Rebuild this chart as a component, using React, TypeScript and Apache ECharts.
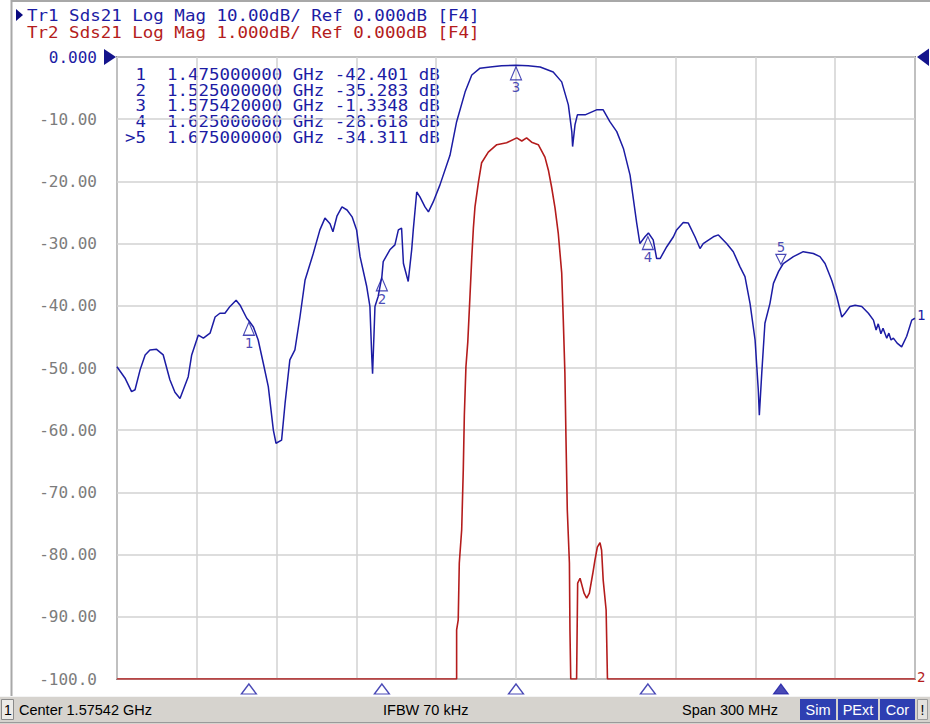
import React, { useEffect, useRef } from 'react';
import * as echarts from 'echarts';

// Sweep: center 1575.42 MHz, span 300 MHz
const START_MHZ = 1425.42;
const SPAN_MHZ = 300;

// Trace 1 (Sds21, 10 dB/div) — frequency in MHz, magnitude in dB
const blueFreqMHz = [
  1425.4, 1428.4, 1430.9, 1432.2, 1434.1, 1436.0, 1437.8, 1440.3, 1442.8, 1445.3,
  1447.2, 1449.1, 1452.2, 1453.5, 1456.0, 1457.9, 1460.4, 1462.3, 1464.1, 1466.0,
  1467.9, 1470.2, 1471.7, 1474.2, 1475.0, 1476.7, 1478.5, 1480.4, 1482.3, 1484.2,
  1485.2, 1487.3, 1488.6, 1490.4, 1492.3, 1494.2, 1496.1, 1499.2, 1501.7, 1503.6,
  1505.5, 1506.6, 1508.1, 1510.0, 1511.9, 1513.8, 1515.5, 1516.8, 1519.3, 1520.5,
  1521.2, 1521.5, 1522.0, 1522.4, 1523.6, 1525.0, 1525.5, 1528.0, 1529.9, 1531.2,
  1532.4, 1533.1, 1534.9, 1536.2, 1536.8, 1538.1, 1539.3, 1541.2, 1542.5, 1544.3,
  1546.8, 1550.6, 1553.1, 1556.3, 1558.8, 1561.9, 1565.7, 1570.0, 1575.4, 1580.0,
  1584.5, 1589.4, 1592.6, 1595.1, 1596.4, 1596.7, 1597.6, 1598.5, 1601.4, 1605.7,
  1608.2, 1610.7, 1613.3, 1615.8, 1618.3, 1620.8, 1622.0, 1623.9, 1625.2, 1627.0,
  1628.3, 1629.6, 1632.1, 1634.6, 1635.8, 1638.3, 1640.2, 1642.7, 1644.6, 1645.8,
  1649.6, 1651.5, 1654.6, 1657.1, 1659.6, 1661.5, 1663.4, 1665.3, 1666.5, 1666.9,
  1667.8, 1669.0, 1670.9, 1672.2, 1674.1, 1675.9, 1679.7, 1683.4, 1687.2, 1689.7,
  1691.6, 1694.1, 1696.0, 1697.9, 1699.1, 1701.0, 1702.9, 1705.4, 1707.9, 1709.8,
  1710.8, 1711.6, 1712.6, 1713.4, 1714.8, 1715.6, 1716.4, 1717.3, 1718.7, 1720.4,
  1722.3, 1724.2, 1725.4,
];
const blueDb = [
  -49.8, -51.6, -53.8, -53.5, -50.3, -47.9, -47.1, -47.0, -47.9, -51.9,
  -53.9, -54.9, -51.4, -47.9, -44.7, -45.2, -44.4, -41.8, -41.2, -41.2,
  -40.1, -39.1, -39.9, -42.0, -42.4, -43.4, -45.5, -49.2, -53.0, -60.0,
  -62.1, -61.6, -55.7, -48.7, -47.1, -41.8, -35.9, -31.6, -27.8, -25.9,
  -26.8, -28.1, -25.6, -24.1, -24.6, -25.7, -27.8, -32.1, -36.9, -40.1,
  -48.2, -50.9, -45.0, -40.1, -38.5, -35.3, -32.9, -31.0, -30.2, -27.8,
  -27.5, -33.2, -36.1, -31.0, -27.8, -21.7, -22.5, -24.1, -24.9, -23.3,
  -20.6, -15.8, -10.4, -5.6, -2.9, -1.8, -1.6, -1.4, -1.33, -1.4,
  -1.6, -2.4, -4.0, -7.7, -12.0, -14.4, -10.9, -9.3, -9.3, -8.5,
  -8.5, -10.4, -12.0, -14.7, -19.0, -26.7, -30.0, -28.9, -28.3, -29.4,
  -32.4, -32.4, -30.5, -28.9, -27.8, -26.6, -26.7, -28.9, -30.8, -30.0,
  -28.9, -28.6, -30.0, -31.3, -33.7, -35.3, -39.6, -45.5, -53.5, -57.6,
  -50.9, -42.8, -39.6, -36.4, -34.5, -33.2, -32.1, -31.3, -31.6, -32.1,
  -33.2, -35.9, -38.5, -41.8, -41.2, -40.1, -39.9, -40.1, -41.2, -42.3,
  -43.9, -42.9, -44.5, -43.6, -45.2, -44.4, -45.5, -45.2, -46.0, -46.6,
  -44.9, -42.3, -42.0,
];

// Trace 2 (Sds21, 1 dB/div, clipped at -10 dB on screen)
const redFreqMHz = [
  1425.4, 1553.1, 1553.1, 1553.7, 1554.1, 1555.0, 1555.6, 1556.0, 1556.6, 1557.3,
  1558.1, 1558.8, 1559.4, 1560.0, 1561.3, 1562.5, 1565.0, 1568.2, 1571.9, 1575.7,
  1577.6, 1579.4, 1581.3, 1583.8, 1586.3, 1587.6, 1588.8, 1590.1, 1591.3, 1592.6,
  1593.2, 1593.8, 1594.2, 1594.7, 1595.5, 1595.7, 1596.0, 1598.2, 1598.6, 1599.5,
  1601.0, 1602.0, 1603.0, 1604.3, 1605.1, 1606.0, 1607.0, 1607.6, 1608.2, 1609.3,
  1609.8, 1725.4,
];
const redDb = [
  -10, -10, -9.21, -9.05, -8.14, -7.6, -6.64, -5.76, -4.98, -4.58,
  -3.86, -3.22, -2.75, -2.41, -2.01, -1.7, -1.53, -1.41, -1.38, -1.3,
  -1.35, -1.3, -1.37, -1.41, -1.61, -1.82, -2.09, -2.43, -2.83, -3.47,
  -4.23, -5.08, -6.11, -7.28, -8.14, -9.21, -10, -10, -8.46, -8.38,
  -8.62, -8.7, -8.62, -8.3, -8.09, -7.88, -7.81, -7.93, -8.41, -8.89,
  -10, -10,
];

// Markers
const markerIds = ['1', '2', '3', '4', '5'];
const markerFreqMHz = [1475, 1525, 1575.42, 1625, 1675];
const markerDb = [-42.401, -35.283, -1.3348, -28.618, -34.311];
const activeMarkerIndex = 4;

const headerLines = [
  'Tr1 Sds21 Log Mag 10.00dB/ Ref 0.000dB [F4]',
  'Tr2 Sds21 Log Mag 1.000dB/ Ref 0.000dB [F4]',
];
const statusCenter = 'Center 1.57542 GHz';
const statusIfbw = 'IFBW 70 kHz';
const statusSpan = 'Span 300 MHz';
const statusFlags = ['Sim', 'PExt', 'Cor'];

const BLUE = '#1c1ca4';
const RED = '#b41c1c';
const MONO = '"DejaVu Sans Mono", monospace';
const SANS = '"Liberation Sans", Arial, sans-serif';

const off = (f: number) => +(f - START_MHZ).toFixed(3);

function buildOption() {
  const blueData = blueFreqMHz.map((f, i) => [off(f), blueDb[i]]);
  const redData = redFreqMHz.map((f, i) => [off(f), redDb[i]]);
  const markerUp = markerIds
    .map((id, i) => ({ name: id, value: [off(markerFreqMHz[i]), markerDb[i]], i }))
    .filter((d) => d.i !== activeMarkerIndex)
    .map(({ name, value }) => ({ name, value }));
  const markerActive = [
    { name: markerIds[activeMarkerIndex], value: [off(markerFreqMHz[activeMarkerIndex]), markerDb[activeMarkerIndex]] },
  ];
  const bottomMarks = markerIds.map((id, i) => ({
    name: id,
    value: [off(markerFreqMHz[i]), -100],
    itemStyle: i === activeMarkerIndex
      ? { color: BLUE, borderColor: BLUE, borderWidth: 1 }
      : { color: 'rgba(255,255,255,0)', borderColor: BLUE, borderWidth: 1.3 },
  }));

  const tableRows = markerIds.map((id, i) => {
    const ghz = (markerFreqMHz[i] / 1000).toFixed(9);
    const val = markerDb[i].toPrecision(5);
    const pre = i === activeMarkerIndex ? '>' : ' ';
    return `${pre}${id}  ${ghz} GHz ${val.padStart(7, ' ')} dB`;
  });

  const graphic: any[] = [];
  // outer frame
  graphic.push({ type: 'line', shape: { x1: 11.5, y1: 0, x2: 11.5, y2: 696 }, style: { stroke: '#a8a8a8', lineWidth: 2 } });
  graphic.push({ type: 'line', shape: { x1: 11, y1: 1, x2: 930, y2: 1 }, style: { stroke: '#a8a8a8', lineWidth: 2 } });
  // active trace arrow
  graphic.push({ type: 'polygon', shape: { points: [[16, 9], [23, 15], [16, 21]] }, style: { fill: '#0a0a80' } });
  headerLines.forEach((t, i) => {
    graphic.push({
      type: 'text', x: 27, y: 15.5 + i * 16.3, scaleX: 1.094,
      style: { text: t, fontFamily: MONO, fontSize: 16, fill: i === 0 ? BLUE : RED, align: 'left', verticalAlign: 'middle' },
    });
  });
  tableRows.forEach((t, i) => {
    graphic.push({
      type: 'text', x: 125, y: 74.5 + i * 15.6, scaleX: 1.09,
      style: { text: t, fontFamily: MONO, fontSize: 16, fill: BLUE, align: 'left', verticalAlign: 'middle' },
    });
  });
  // reference position indicators
  graphic.push({ type: 'polygon', shape: { points: [[104, 49], [116, 57], [104, 65]] }, style: { fill: '#14148c' } });
  graphic.push({ type: 'polygon', shape: { points: [[929, 48.5], [917, 57], [929, 66]] }, style: { fill: '#14148c' } });
  graphic.push({ type: 'text', x: 917, y: 315, style: { text: '1', fontFamily: MONO, fontSize: 14, fill: BLUE, verticalAlign: 'middle' } });
  graphic.push({ type: 'text', x: 917, y: 677, style: { text: '2', fontFamily: MONO, fontSize: 14, fill: RED, verticalAlign: 'middle' } });

  // status bar
  graphic.push({ type: 'rect', shape: { x: 0, y: 696, width: 930, height: 28 }, style: { fill: '#d6d3ce' } });
  graphic.push({ type: 'line', shape: { x1: 0, y1: 696.5, x2: 930, y2: 696.5 }, style: { stroke: '#f4f4f4', lineWidth: 1 } });
  graphic.push({ type: 'line', shape: { x1: 0, y1: 722.5, x2: 930, y2: 722.5 }, style: { stroke: '#9a9a9a', lineWidth: 1 } });
  graphic.push({ type: 'rect', shape: { x: 1.5, y: 699.5, width: 12, height: 20 }, style: { fill: '#ecebe8', stroke: '#8a8a8a', lineWidth: 1 } });
  graphic.push({ type: 'text', x: 4, y: 710, style: { text: '1', fontFamily: SANS, fontSize: 14, fill: '#000', verticalAlign: 'middle' } });
  graphic.push({ type: 'text', x: 19, y: 710, style: { text: statusCenter, fontFamily: SANS, fontSize: 14.5, fill: '#000', verticalAlign: 'middle' } });
  graphic.push({ type: 'text', x: 383, y: 710, style: { text: statusIfbw, fontFamily: SANS, fontSize: 14.5, fill: '#000', verticalAlign: 'middle' } });
  graphic.push({ type: 'text', x: 682, y: 710, style: { text: statusSpan, fontFamily: SANS, fontSize: 14.5, fill: '#000', verticalAlign: 'middle' } });
  const boxes = [[800, 36], [838, 40], [880, 35]];
  statusFlags.forEach((t, i) => {
    const [bx, bw] = boxes[i];
    graphic.push({ type: 'rect', shape: { x: bx, y: 699, width: bw, height: 21 }, style: { fill: '#2e3fb2' } });
    graphic.push({ type: 'text', x: bx + bw / 2, y: 710, style: { text: t, fontFamily: SANS, fontSize: 14.5, fill: '#ffffff', align: 'center', verticalAlign: 'middle' } });
  });
  graphic.push({ type: 'rect', shape: { x: 917.5, y: 699.5, width: 10, height: 20 }, style: { fill: '#e4e2de', stroke: '#9a9a9a', lineWidth: 1 } });
  graphic.push({ type: 'text', x: 922.5, y: 710, style: { text: '!', fontFamily: SANS, fontSize: 14, fill: '#000', align: 'center', verticalAlign: 'middle' } });

  return {
    animation: false,
    backgroundColor: '#ffffff',
    grid: { left: 117, right: 15, top: 57, bottom: 45, show: true, borderColor: '#8c8c8c', borderWidth: 2, backgroundColor: '#ffffff' },
    xAxis: {
      type: 'value', min: 0, max: SPAN_MHZ, interval: 30,
      axisLine: { show: false }, axisTick: { show: false }, axisLabel: { show: false },
      splitLine: { show: true, lineStyle: { color: '#d2d2d2', width: 1.5 } },
    },
    yAxis: [
      {
        type: 'value', min: -100, max: 0, interval: 10,
        axisLine: { show: false }, axisTick: { show: false },
        splitLine: { show: true, lineStyle: { color: '#d2d2d2', width: 1.5 } },
        axisLabel: {
          margin: 20,
          formatter: (v: number) => (v === 0 ? '{b|0.000}' : `{g|${v === -100 ? '-100.0' : v.toFixed(2)}}`),
          rich: {
            b: { color: BLUE, fontFamily: MONO, fontSize: 16 },
            g: { color: '#7c7c7c', fontFamily: MONO, fontSize: 16 },
          },
        },
      },
      { type: 'value', min: -10, max: 0, show: false, splitLine: { show: false } },
    ],
    series: [
      {
        type: 'line', yAxisIndex: 1, data: redData, showSymbol: false, symbol: 'none',
        lineStyle: { color: RED, width: 1.6 }, z: 2,
      },
      {
        type: 'line', yAxisIndex: 0, data: blueData, showSymbol: false, symbol: 'none',
        lineStyle: { color: BLUE, width: 1.5 }, z: 3,
      },
      {
        type: 'scatter', yAxisIndex: 0, data: markerUp, symbol: 'triangle', symbolSize: [11, 13], symbolOffset: [0, 8],
        itemStyle: { color: 'rgba(255,255,255,0)', borderColor: BLUE, borderWidth: 1.2 },
        label: { show: true, position: 'bottom', distance: 0, formatter: '{b}', color: BLUE, fontFamily: MONO, fontSize: 14 },
        z: 4,
      },
      {
        type: 'scatter', yAxisIndex: 0, data: markerActive, symbol: 'path://M0,0L10,0L5,10Z', symbolSize: [10, 10], symbolOffset: [0, -11],
        itemStyle: { color: 'rgba(255,255,255,0)', borderColor: BLUE, borderWidth: 1.2 },
        label: { show: true, position: 'top', distance: 0, formatter: '{b}', color: BLUE, fontFamily: MONO, fontSize: 14 },
        z: 4,
      },
      {
        type: 'scatter', yAxisIndex: 0, data: bottomMarks, symbol: 'triangle', symbolSize: [15, 10], symbolOffset: [0, 10],
        clip: false, z: 4,
      },
    ],
    graphic,
  };
}

export default function App() {
  const ref = useRef<HTMLDivElement>(null);
  useEffect(() => {
    document.body.style.margin = '0';
    if (!ref.current) return;
    const chart = echarts.init(ref.current, undefined, { renderer: 'svg' });
    chart.setOption(buildOption() as any);
    return () => chart.dispose();
  }, []);
  return <div ref={ref} style={{ width: 930, height: 724 }} />;
}
